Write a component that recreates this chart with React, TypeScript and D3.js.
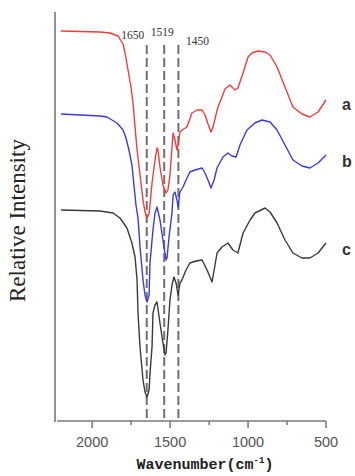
import React from "react";
import * as d3 from "d3";

// wavenumber (cm^-1), relative intensity (arbitrary, offset)
const seriesA: [number, number][] = [
  [2200, 97.5], [1950, 97.25], [1886, 97], [1834, 96.25], [1822, 95.5], [1802, 94.25],
  [1789, 92], [1770, 87.75], [1751, 83.5], [1738, 79.5], [1725, 73.5], [1712, 67.75],
  [1693, 61.5], [1674, 55.25], [1661, 52.25], [1648, 50.75], [1635, 51.75], [1629, 54],
  [1616, 59.5], [1597, 65.25], [1584, 68.25], [1578, 67.75], [1565, 63.5], [1546, 59],
  [1526, 57], [1514, 57.75], [1501, 61.5], [1494, 65.25], [1481, 72], [1469, 70.25],
  [1456, 67.75], [1449, 69], [1437, 72.25], [1424, 72.75], [1392, 73.5], [1360, 77],
  [1328, 77.75], [1295, 77.75], [1276, 76.5], [1257, 74.25], [1238, 72.25], [1225, 73.5],
  [1206, 76.5], [1193, 78.5], [1167, 81], [1148, 83], [1116, 84], [1084, 82.75],
  [1065, 83.25], [1032, 87], [1000, 91], [975, 92], [936, 92.5], [891, 92.25],
  [859, 91.5], [814, 88.5], [763, 83.5], [712, 78.5], [654, 76.75], [603, 76],
  [551, 77.25], [500, 80.25],
];

const seriesB: [number, number][] = [
  [2200, 76.75], [1950, 76.25], [1905, 76], [1841, 74.5], [1802, 72.75], [1783, 70.75],
  [1764, 67.75], [1745, 64], [1732, 59], [1719, 54], [1706, 50.75], [1693, 43.5],
  [1674, 35.25], [1661, 31.5], [1648, 29.75], [1635, 31.5], [1629, 39.5], [1616, 45.25],
  [1610, 47.75], [1597, 52], [1584, 53.5], [1565, 50.25], [1546, 45.25], [1526, 40.25],
  [1520, 40.75], [1507, 46], [1488, 52], [1481, 56.5], [1469, 57.25], [1456, 55.25],
  [1449, 53.5], [1437, 57.25], [1417, 58.5], [1398, 60.25], [1373, 62.25], [1341, 62.75],
  [1295, 63.25], [1276, 62], [1257, 60.25], [1238, 58.25], [1218, 60.25], [1199, 63.25],
  [1161, 66], [1129, 67], [1103, 66.25], [1077, 66], [1052, 69], [1007, 72.75],
  [956, 74.5], [911, 75.25], [859, 74.75], [814, 72.75], [763, 69], [712, 65.25],
  [654, 63.75], [603, 63.25], [551, 64.5], [500, 66.5],
];

const seriesC: [number, number][] = [
  [2200, 52.75], [1950, 52.5], [1866, 52], [1822, 50.75], [1777, 48.25], [1745, 44.5],
  [1725, 41], [1712, 35.25], [1706, 27], [1693, 18.5], [1674, 10.25], [1661, 7.25],
  [1648, 6], [1635, 7.75], [1629, 12], [1616, 18.5], [1610, 27], [1597, 29],
  [1584, 29.75], [1565, 24.5], [1546, 19.5], [1533, 16.5], [1526, 17], [1514, 22.75],
  [1501, 30.25], [1488, 34], [1475, 36], [1462, 34.5], [1449, 31.5], [1437, 34.5],
  [1424, 35.25], [1398, 37.75], [1373, 39.5], [1334, 40], [1295, 40.25], [1263, 37.75],
  [1231, 34.75], [1212, 39], [1199, 42], [1167, 43.5], [1129, 44.5], [1097, 42.75],
  [1065, 42], [1032, 47], [987, 50.25], [956, 52], [891, 53.25], [859, 52.25],
  [814, 49.5], [763, 45.25], [712, 42], [654, 40.75], [603, 40.75], [551, 42],
  [500, 44.5],
];

const seriesNames = ["a", "b", "c"];
const seriesColors = ["#f03c3c", "#3a3ae0", "#3a3a3a"];

const markerPositions = [1650, 1538, 1447];
const markerLabels = ["1650", "1519", "1450"];

const majorTicks = [2000, 1500, 1000, 500];
const minorTicks = [1750, 1250, 750];

export default function App() {
  const W = 355;
  const H = 476;
  const x = d3.scaleLinear().domain([2200, 500]).range([61, 326]);
  const y = d3.scaleLinear().domain([0, 100]).range([421, 21]);
  const line = d3
    .line<[number, number]>()
    .x((d) => x(d[0]))
    .y((d) => y(d[1]))
    .curve(d3.curveLinear);
  const all = [seriesA, seriesB, seriesC];
  const axisColor = "#777";
  const labelOffsets = [
    { dx: -14, dy: 39 },
    { dx: -2, dy: 36 },
    { dx: 19, dy: 45 },
  ];

  return (
    <svg
      width={W}
      height={H}
      style={{ position: "absolute", left: 0, top: 0, background: "#fff" }}
    >
      {/* dashed markers */}
      {markerPositions.map((m, i) => (
        <g key={i}>
          <line
            x1={x(m)}
            x2={x(m)}
            y1={45}
            y2={y(0)}
            stroke="#707070"
            strokeWidth={2}
            strokeDasharray="9,4"
          />
          <text
            x={x(m) + labelOffsets[i].dx}
            y={labelOffsets[i].dy}
            textAnchor="middle"
            fontFamily="'Liberation Serif', serif"
            fontSize={11.5}
            fill="#333"
          >
            {markerLabels[i]}
          </text>
        </g>
      ))}

      {/* spectra */}
      {all.map((s, i) => (
        <path
          key={i}
          d={line(s) || ""}
          fill="none"
          stroke={seriesColors[i]}
          strokeWidth={1.4}
          strokeLinejoin="round"
        />
      ))}

      {/* series labels */}
      {all.map((s, i) => (
        <text
          key={"l" + i}
          x={342}
          y={y(s[s.length - 1][1]) + [10, 12, 12][i]}
          fontFamily="'Liberation Sans', Arial, sans-serif"
          fontWeight="bold"
          fontSize={16}
          fill="#333"
        >
          {seriesNames[i]}
        </text>
      ))}

      {/* axes */}
      <line x1={55} x2={55} y1={12} y2={422} stroke={axisColor} strokeWidth={1.6} />
      <line x1={57} x2={x(500)} y1={y(0)} y2={y(0)} stroke={axisColor} strokeWidth={1.6} />
      {majorTicks.map((t) => (
        <g key={t}>
          <line x1={x(t)} x2={x(t)} y1={y(0)} y2={y(0) + 7} stroke={axisColor} strokeWidth={1.5} />
          <text
            x={x(t)}
            y={447}
            textAnchor="middle"
            fontFamily="'Liberation Sans', Arial, sans-serif"
            fontSize={14.5}
            fill="#555"
          >
            {t}
          </text>
        </g>
      ))}
      {minorTicks.map((t) => (
        <line key={t} x1={x(t)} x2={x(t)} y1={y(0)} y2={y(0) + 4} stroke={axisColor} strokeWidth={1.5} />
      ))}

      {/* axis titles */}
      <text
        x={205}
        y={469}
        textAnchor="middle"
        fontFamily="'Liberation Mono', monospace"
        fontWeight="bold"
        fontSize={15}
        fill="#222"
      >
        Wavenumber(cm
        <tspan fontSize={9} dy={-6}>-1</tspan>
        <tspan dy={6}>)</tspan>
      </text>
      <text
        transform="translate(25,302) rotate(-90)"
        textAnchor="start"
        fontFamily="'Liberation Serif', serif"
        fontSize={23}
        fill="#222"
      >
        Relative Intensity
      </text>
    </svg>
  );
}
